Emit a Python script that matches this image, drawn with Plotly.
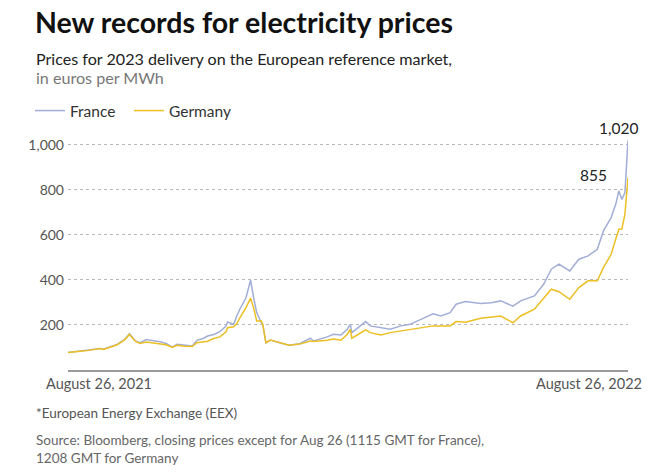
import plotly.graph_objects as go

# ---------------- data ----------------
dates = [
    "2021-08-26", "2021-09-06", "2021-09-16", "2021-09-18", "2021-09-22", "2021-09-27",
    "2021-10-02", "2021-10-05", "2021-10-09", "2021-10-12", "2021-10-16", "2021-10-21",
    "2021-10-25", "2021-10-29", "2021-11-02", "2021-11-05", "2021-11-10", "2021-11-15",
    "2021-11-18", "2021-11-22", "2021-11-25", "2021-11-29", "2021-12-03", "2021-12-07",
    "2021-12-08", "2021-12-12", "2021-12-14", "2021-12-16", "2021-12-20", "2021-12-23",
    "2021-12-25", "2021-12-27", "2021-12-30", "2021-12-31", "2022-01-02", "2022-01-05",
    "2022-01-11", "2022-01-17", "2022-01-24", "2022-01-31", "2022-02-02", "2022-02-11",
    "2022-02-15", "2022-02-20", "2022-02-24", "2022-02-26", "2022-02-27", "2022-03-08",
    "2022-03-11", "2022-03-18", "2022-03-24", "2022-03-31", "2022-04-06", "2022-04-13",
    "2022-04-21", "2022-04-26", "2022-05-02", "2022-05-06", "2022-05-12", "2022-05-22",
    "2022-05-29", "2022-06-04", "2022-06-12", "2022-06-17", "2022-06-26", "2022-07-02",
    "2022-07-07", "2022-07-12", "2022-07-19", "2022-07-25", "2022-07-31", "2022-08-06",
    "2022-08-10", "2022-08-15", "2022-08-18", "2022-08-20", "2022-08-22", "2022-08-24",
    "2022-08-26",
]
france = [
    78, 86, 96, 92, 102, 114,
    136, 161, 129, 121, 135, 130,
    126, 118, 102, 114, 111, 107,
    132, 140, 151, 158, 170, 195,
    213, 203, 240, 270, 321, 399,
    321, 255, 210, 200, 121, 133,
    121, 110, 117, 141, 129, 147,
    159, 156, 181, 203, 166, 215,
    196, 188, 181, 196, 203, 225,
    250, 240, 255, 292, 304, 295,
    299, 307, 284, 307, 329, 381,
    448, 470, 440, 492, 507, 536,
    618, 677, 736, 796, 758, 788,
    1020,
]
germany = [
    78, 85, 95, 91, 100, 112,
    134, 158, 127, 118, 124, 120,
    116, 112, 100, 110, 106, 104,
    121, 124, 128, 140, 147, 170,
    188, 192, 205, 232, 277, 319,
    276, 218, 218, 200, 121, 133,
    121, 110, 115, 129, 127, 132,
    138, 132, 159, 181, 141, 178,
    166, 156, 166, 173, 181, 188,
    196, 196, 196, 215, 212, 230,
    236, 240, 210, 240, 270, 321,
    359, 348, 314, 366, 396, 396,
    455, 514, 588, 625, 626, 692,
    855,
]
y_ticks = [200, 400, 600, 800, 1000]
y_tick_labels = ["200", "400", "600", "800", "1,000"]
x_ticks = ["2021-08-26", "2022-08-26"]
x_tick_labels = ["August 26, 2021", "August 26, 2022"]
series_names = ["France", "Germany"]
end_labels = ["1,020", "855"]

# ---------------- layout helpers ----------------
W, H = 660, 475
ML, MR, MT, MB = 68, 32, 135, 105
PW, PH = W - ML - MR, H - MT - MB
FONT = "Lato, 'Open Sans', sans-serif"
C_FR = "#a2aed6"
C_DE = "#ecbf22"


def px(x):
    """window pixel x -> paper fraction"""
    return (x - ML) / PW


def py(y):
    """window pixel y -> paper fraction"""
    return (H - MB - y) / PH


fig = go.Figure()
fig.add_trace(go.Scatter(x=dates, y=france, mode="lines", name=series_names[0],
                         line=dict(color=C_FR, width=1.5), legend="legend"))
fig.add_trace(go.Scatter(x=dates, y=germany, mode="lines", name=series_names[1],
                         line=dict(color=C_DE, width=1.5), legend="legend2"))

leg_common = dict(orientation="h", xanchor="left", yanchor="middle",
                  font=dict(size=15.5, color="#333"), itemwidth=30,
                  bgcolor="rgba(0,0,0,0)")

fig.update_layout(
    width=W, height=H,
    margin=dict(l=ML, r=MR, t=MT, b=MB),
    paper_bgcolor="white", plot_bgcolor="white",
    font=dict(family=FONT, color="#333"),
    showlegend=True,
    legend=dict(x=px(30), y=py(111), **leg_common),
    legend2=dict(x=px(129), y=py(111), **leg_common),
    xaxis=dict(range=[x_ticks[0], x_ticks[1]], type="date", showgrid=False, zeroline=False,
               showline=True, linecolor="#9a9a9a", linewidth=1.5,
               tickvals=x_ticks, ticktext=["", ""], ticks="inside", ticklen=9,
               tickcolor="#9a9a9a", tickwidth=1.5, showticklabels=False),
    yaxis=dict(range=[0, 1044], tickvals=y_ticks, ticktext=y_tick_labels,
               showgrid=True, gridcolor="#b8b8b8", griddash="dot", gridwidth=1,
               zeroline=False, showline=False, ticks="",
               tickfont=dict(size=14, color="#555"), ticklabelstandoff=3),
)

ann = []
ann.append(dict(text="<b>New records for electricity prices</b>", x=px(33), y=py(22),
                font=dict(size=28.5, color="#111")))
ann.append(dict(text="Prices for 2023 delivery on the European reference market,", x=px(34), y=py(58),
                font=dict(size=16.1, color="#222")))
ann.append(dict(text="in euros per MWh", x=px(34), y=py(77), font=dict(size=16.1, color="#777")))
ann.append(dict(text="*European Energy Exchange (EEX)", x=px(34), y=py(413),
                font=dict(size=13.5, color="#555")))
ann.append(dict(text="Source: Bloomberg, closing prices except for Aug 26 (1115 GMT for France),<br>1208 GMT for Germany",
                x=px(34), y=py(449), align="left", font=dict(size=13.5, color="#666")))
for a in ann:
    a.update(xref="paper", yref="paper", xanchor="left", yanchor="middle", showarrow=False)
    fig.add_annotation(**a)

# x tick labels as annotations anchored at the tick dates
fig.add_annotation(x=x_ticks[0], y=py(383), xref="x", yref="paper", text=x_tick_labels[0],
                   xanchor="left", yanchor="middle", xshift=-24, showarrow=False,
                   font=dict(size=14.5, color="#555"))
fig.add_annotation(x=x_ticks[1], y=py(383), xref="x", yref="paper", text=x_tick_labels[1],
                   xanchor="right", yanchor="middle", xshift=16, showarrow=False,
                   font=dict(size=14.5, color="#555"))

# end-of-line value labels
fig.add_annotation(x=dates[-1], y=france[-1], xref="x", yref="y", text=end_labels[0],
                   xanchor="right", yanchor="bottom", xshift=12, yshift=1, showarrow=False,
                   font=dict(size=15.5, color="#222"))
fig.add_annotation(x=dates[-1], y=germany[-1], xref="x", yref="y", text=end_labels[1],
                   xanchor="right", yanchor="middle", xshift=-19, yshift=3, showarrow=False,
                   font=dict(size=15.5, color="#222"))

# remove the browser's default 8px body margin so the figure fills the window exactly
fig.write_html("out.html", config={"displayModeBar": False},
               post_script="document.body.style.margin='0';")
